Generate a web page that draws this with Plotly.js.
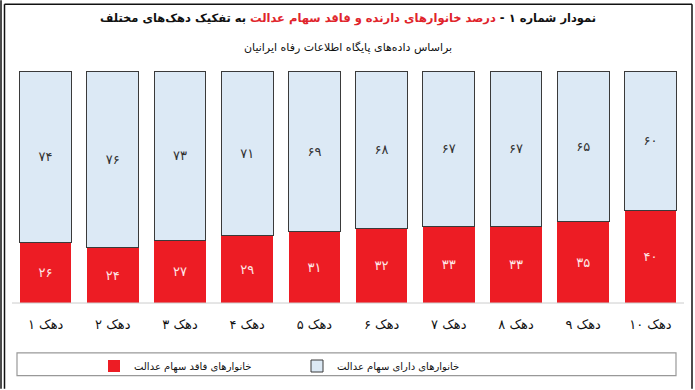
<!DOCTYPE html>
<html><head><meta charset="utf-8">
<script src="https://cdn.plot.ly/plotly-3.0.1.min.js"></script>
<style>html,body{margin:0;padding:0;background:#fff}#c{width:695px;height:390px}</style>
</head><body><div id="c"></div><script>
const categories = ['دهک ۱','دهک ۲','دهک ۳','دهک ۴','دهک ۵','دهک ۶','دهک ۷','دهک ۸','دهک ۹','دهک ۱۰'];
const withoutShares = [26,24,27,29,31,32,33,33,35,40];
const withShares = [74,76,73,71,69,68,67,67,65,60];
const seriesNames = ['خانوارهای فاقد سهام عدالت','خانوارهای دارای سهام عدالت'];
const titleParts = ['نمودار شماره ۱ - ','درصد خانوارهای دارنده و فاقد سهام عدالت',' به تفکیک دهک‌های مختلف'];
const subtitle = 'براساس داده‌های پایگاه اطلاعات رفاه ایرانیان';
function fa(n){return String(n).replace(/\d/g,d=>'۰۱۲۳۴۵۶۷۸۹'[d]);}
const F = 'DejaVu Sans, sans-serif';
const traces = [
 {type:'bar', x:categories, y:withoutShares, name:seriesNames[0], text:withoutShares.map(fa),
  textposition:'inside', insidetextanchor:'middle', textfont:{family:F,size:13,color:'#fde6e6'},
  marker:{color:'#ed1c24', line:{width:0}}, hoverinfo:'none'},
 {type:'bar', x:categories, y:withShares, name:seriesNames[1], text:withShares.map(fa),
  textposition:'inside', insidetextanchor:'middle', textfont:{family:F,size:13,color:'#333'},
  marker:{color:'#dce9f5', line:{width:1,color:'#3a3a3a'}}, hoverinfo:'none'}
];
const L=12, T=71, W=672, H=233, BASE=304;
const px=x=>(x-L)/W, py=y=>(BASE-y)/H;
const layout = {
 width:695, height:390, margin:{l:L,r:11,t:T,b:86}, paper_bgcolor:'#fff', plot_bgcolor:'#fff',
 barmode:'stack', bargap:0.23, showlegend:true,
 font:{family:F,color:'#111'},
 xaxis:{range:[-0.5,9.5], showgrid:false, zeroline:false, showline:false, ticks:'', ticklabelstandoff:12,
   tickfont:{family:F,size:13,color:'#111'}},
 yaxis:{range:[0,100], visible:false, fixedrange:true},
 legend:{orientation:'h', x:px(94), xanchor:'left', y:py(366), yanchor:'middle', bgcolor:'rgba(0,0,0,0)',
   font:{family:F,size:10,color:'#111'}, entrywidth:158, traceorder:'normal'},
 annotations:[
  {xref:'paper',yref:'paper',x:0.5,y:py(18),xanchor:'center',yanchor:'middle',showarrow:false,
   text:'<b>'+titleParts[0]+'<span style="color:#e0242b">'+titleParts[1]+'</span>'+titleParts[2]+'</b>',
   font:{family:F,size:11.5,color:'#111'}},
  {xref:'paper',yref:'paper',x:0.5,y:py(47),xanchor:'center',yanchor:'middle',showarrow:false,
   text:subtitle, font:{family:F,size:11,color:'#111'}}
 ],
 shapes:[
  {type:'line',xref:'paper',yref:'paper',x0:px(12),x1:px(684),y0:0,y1:0,line:{color:'#cccccc',width:1}},
  {type:'rect',xref:'paper',yref:'paper',x0:px(17),x1:px(676),y0:py(354),y1:py(377),line:{color:'#999',width:1.2}},
  {type:'line',xref:'paper',yref:'paper',x0:px(1),x1:px(1),y0:py(0),y1:py(390),line:{color:'#111',width:1.5}},
  {type:'line',xref:'paper',yref:'paper',x0:px(4.5),x1:px(4.5),y0:py(4),y1:py(390),line:{color:'#111',width:1.5}},
  {type:'line',xref:'paper',yref:'paper',x0:px(4.5),x1:px(692),y0:py(4),y1:py(4),line:{color:'#111',width:1.5}},
  {type:'line',xref:'paper',yref:'paper',x0:px(692),x1:px(692),y0:py(4),y1:py(390),line:{color:'#111',width:1.5}}
 ]
};
Plotly.newPlot('c', traces, layout, {displayModeBar:false, staticPlot:true});
</script></body></html>
